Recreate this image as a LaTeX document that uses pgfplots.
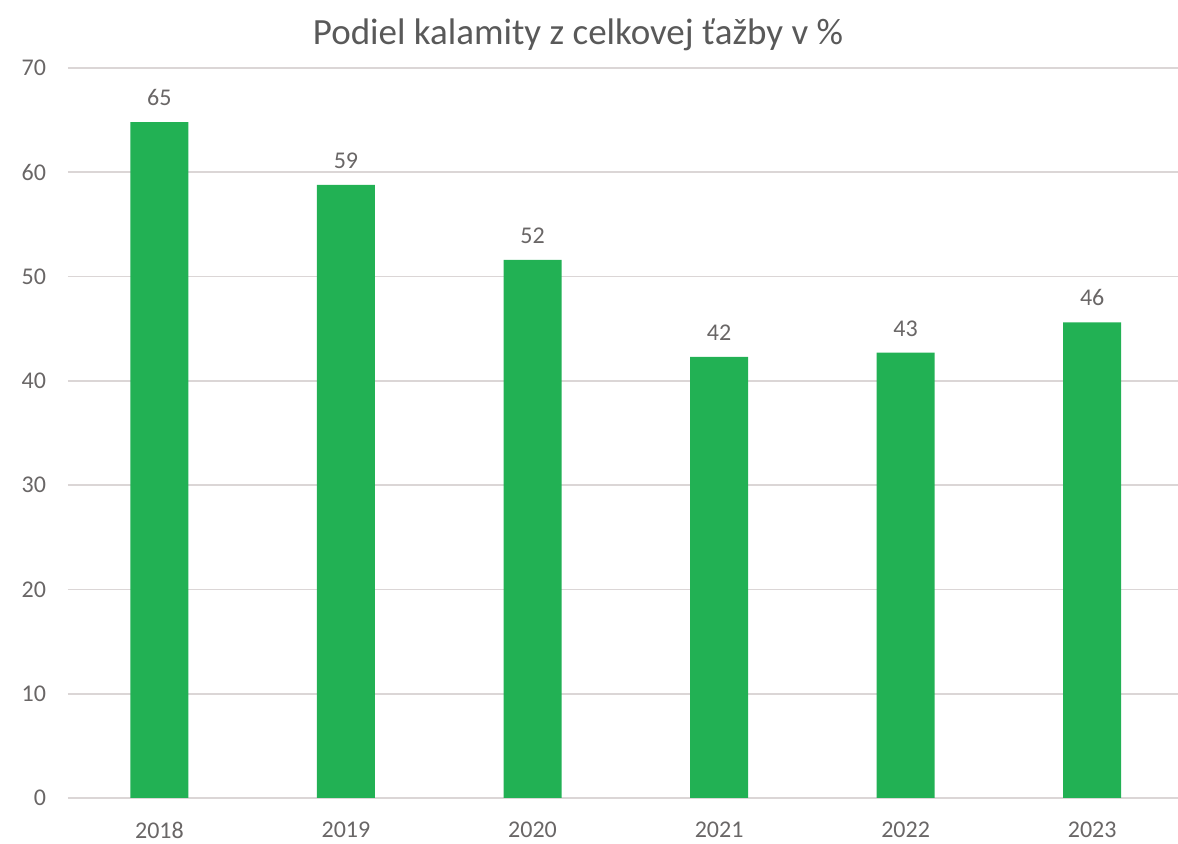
\documentclass[border=0pt]{standalone}
\usepackage{pgfplots}
\pgfplotsset{compat=1.18}
\usepackage{fontspec}
\setmainfont{Carlito}
\definecolor{bargreen}{RGB}{34,177,84}
\definecolor{txtgray}{RGB}{89,89,89}
\definecolor{tickgray}{RGB}{105,102,102}
\definecolor{gridgray}{RGB}{219,214,214}
\begin{document}
\begin{tikzpicture}
\begin{axis}[
  scale only axis,
  width=555pt, height=365pt,
  ymin=0, ymax=70,
  ytick={0,10,...,70},
  xmin=-0.49, xmax=5.46,
  xtick=data,
  xticklabels={2018,2019,2020,2021,2022,2023},
  ymajorgrids,
  grid style={gridgray, line width=0.8pt},
  axis line style={draw=none},
  major tick style={draw=none},
  ticklabel style={font=\fontsize{12}{14}\selectfont, text=tickgray},
  /pgf/number format/assume math mode=true,
  yticklabel style={xshift=-7.5pt},
  xticklabel style={yshift=-8.5pt},
  title={Podiel kalamity z celkovej ťažby v \%},
  title style={font=\fontsize{18.5}{22}\selectfont, text=txtgray,
    at={(axis description cs:0,1)}, anchor=center, xshift=255pt, yshift=10.5pt},
  nodes near coords={\pgfmathprintnumber[fixed,precision=0]{\pgfplotspointmeta}},
  every node near coord/.append style={font=\fontsize{12}{14}\selectfont, text=tickgray, yshift=4.7pt},
  clip=false,
]
\addplot[ybar, bar width=29pt, fill=bargreen, draw=none]
  coordinates {(0,64.8) (1,58.8) (2,51.6) (3,42.3) (4,42.7) (5,45.6)};
\end{axis}
\pgfresetboundingbox
\path[use as bounding box] ([shift={(-34pt,-23pt)}]current axis.south west)
  rectangle ([shift={(0pt,34pt)}]current axis.north east);
\end{tikzpicture}
\end{document}
